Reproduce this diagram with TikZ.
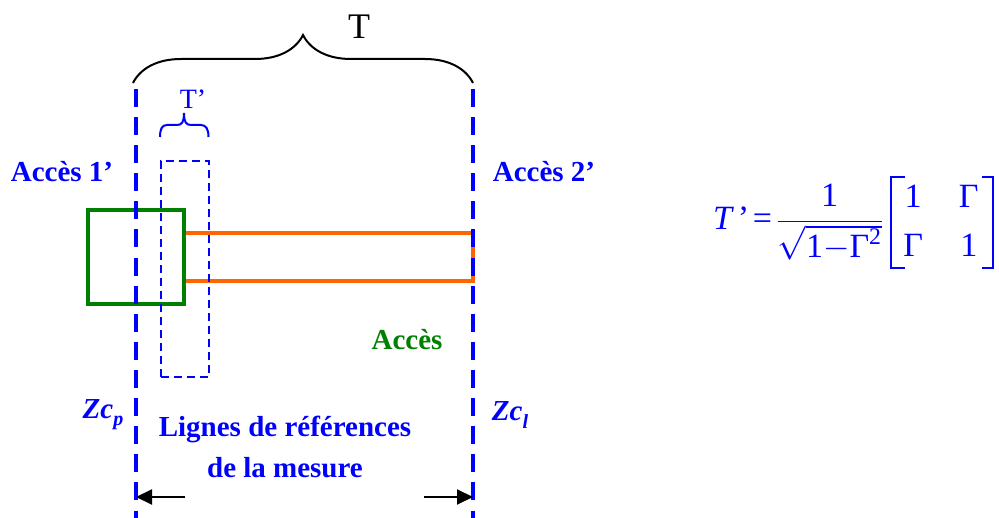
\documentclass[tikz,border=0pt]{standalone}
\usepackage{fix-cm}
\usepackage{amsmath}
\usepackage{fontspec}
\setmainfont{Liberation Serif}
\usepackage{tikz}
\usetikzlibrary{arrows.meta,calc,decorations.pathreplacing}
\definecolor{portgreen}{HTML}{008000}
\definecolor{lineorange}{HTML}{FF6600}
\newcommand{\fsz}[1]{\fontsize{#1}{1.2\dimexpr #1pt\relax}\selectfont}

\begin{document}
\begin{tikzpicture}[
  x=1pt,y=-1pt,
  label/.style={text=blue,font=\fsz{29}\bfseries,inner sep=0pt,align=center},
  refline/.style={draw=blue,line width=4pt,dash pattern=on 18pt off 10.1pt},
  trace/.style={draw=lineorange,line width=4pt},
  arrow/.style={-{Triangle[length=16pt,width=15pt]},line width=2pt,color=black},
  bigbrace/.style={decorate,decoration={brace,amplitude=#1},line width=2pt},
  bracket/.style={draw=blue,line width=2pt}
]
\useasboundingbox (0,0) rectangle (999,518);
% access box and line
\node[draw=portgreen,line width=4pt,minimum width=96pt,minimum height=94pt,inner sep=0pt] (port) at (136,257) {};
\coordinate (topend) at (473,233);
\coordinate (botend) at (473,281);
\draw[trace] (port.east |- topend) -- (topend) -- (botend) -- (port.east |- botend);
% reference planes
\coordinate (leftup) at (136,89);
\coordinate (leftdown) at (136,518);
\coordinate (rightup) at (473,89);
\coordinate (rightdown) at (473,518);
\draw[refline] (leftup) -- (leftdown);
\draw[refline] (rightup) -- (rightdown);
% T' window
\node[draw=blue,line width=2pt,dash pattern=on 8pt off 5pt,minimum width=48pt,minimum height=216pt,inner sep=0pt] (window) at (184.5,269.5) {};
% braces
\coordinate (braceA) at (133,83);
\coordinate (braceB) at (473,83);
\coordinate (braceC) at (160,137);
\coordinate (braceD) at (208.5,137);
\coordinate (braceTip) at (184,113);
\draw[bigbrace=48pt] (braceA) -- (braceB);
\draw[line width=2pt,draw=blue] (braceC) .. controls (160,129) and (162,125) .. (167,125) -- (177,125)
  .. controls (182,125) and (184,122) .. (braceTip) .. controls (184,122) and (186,125) .. (191,125)
  -- (201,125) .. controls (206,125) and (208.5,129) .. (braceD);
\node[font=\fsz{36},inner sep=0pt] (bigT) at (359,27) {T};
\node[text=blue,font=\fsz{28},inner sep=0pt] (smallT) at (193,99) {T’};
% labels
\node[label] (port1) at (62,172) {Accès 1’};
\node[label] (port2) at (544,172) {Accès 2’};
\node[label,text=portgreen] (access) at (407,340) {Accès};
\node[label,font=\fsz{29}\bfseries\itshape] (zcp) at (103,415) {Zc\raisebox{-0.25em}{\fsz{20}p}};
\node[label,font=\fsz{29}\bfseries\itshape] (zcl) at (510,415) {Zc\raisebox{-0.25em}{\fsz{20}l}};
\node[label] (reftext) at (285,447) {Lignes de références\\[6pt]de la mesure};
% arrows
\coordinate (arrowL) at (136,497);
\coordinate (arrowR) at (473,497);
\coordinate (startL) at (185,497);
\coordinate (startR) at (424,497);
\draw[arrow] (startL) -- (arrowL);
\draw[arrow] (startR) -- (arrowR);
% formula
\node[text=blue,font=\fsz{34},inner sep=0pt,anchor=west] (formula) at (713,222.5)
  {\thickmuskip=2mu \medmuskip=0mu \nulldelimiterspace=0pt%
   $\textit{T}\,\text{'}\mkern2mu\text{=}\mkern3mu\dfrac{\text{1}}{\sqrt{\text{1}-\text{Γ}^{\text{2}}}}$};
\node[text=blue,font=\fsz{34},inner sep=0pt] (entries) at (941,222.5)
  {\def\arraystretch{1.2}%
   $\begin{array}{@{}c@{\hspace{36pt}}c@{}}\text{1}&\text{Γ}\\ \text{Γ}&\text{1}\end{array}$};
\draw[bracket] (905,177) -- (891,177) -- (891,268) -- (905,268);
\draw[bracket] (982,177) -- (993,177) -- (993,268) -- (982,268);
\end{tikzpicture}
\end{document}
